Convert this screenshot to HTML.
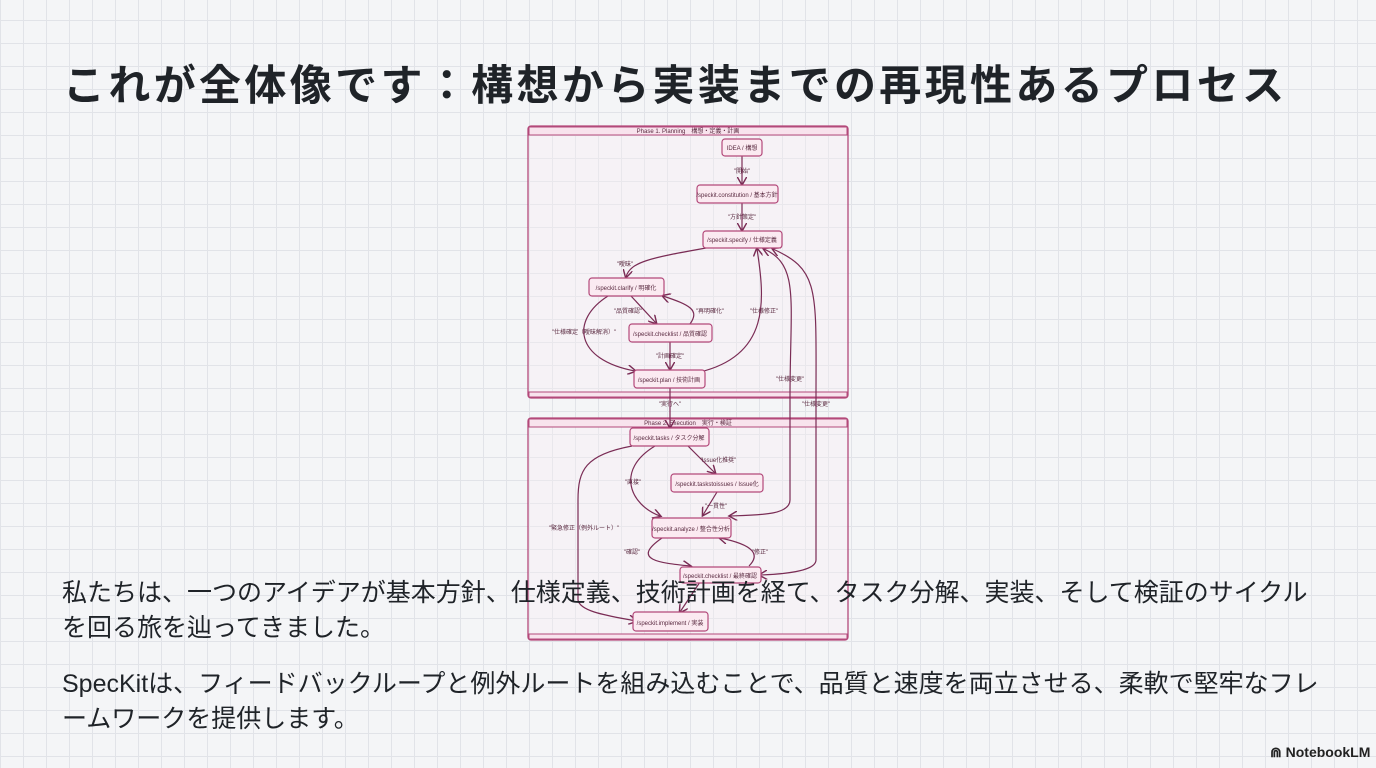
<!DOCTYPE html>
<html><head><meta charset="utf-8"><style>
html,body{margin:0;padding:0}
body{width:1376px;height:768px;overflow:hidden;position:relative;background-color:#f4f5f7;
background-image:linear-gradient(to right,#e1e3e8 1px,transparent 1px),linear-gradient(to bottom,#e1e3e8 1px,transparent 1px);
background-size:23px 23px;background-position:0 20px;font-family:"Liberation Sans","Noto Sans CJK JP",sans-serif;color:#1f2328}
.t{position:absolute;left:63px;top:52px;font-size:42px;font-weight:bold;white-space:nowrap;letter-spacing:3.35px}
.p{position:absolute;left:62px;font-size:25px;white-space:nowrap;line-height:35px}
svg{position:absolute;left:0;top:0}
.logo{position:absolute;left:1270px;top:744px;font-size:14px;font-weight:bold;color:#222}
</style></head><body>
<div class="t">これが全体像です：構想から実装までの再現性あるプロセス</div>
<svg width="1376" height="768" viewBox="0 0 1376 768">
<defs><marker id="a" markerWidth="8" markerHeight="8" refX="6" refY="4" orient="auto"><path d="M0,0 L7,4 L0,8" fill="none" stroke="#7a2c55" stroke-width="1.2"/></marker></defs>
<g fill="rgba(250,238,244,0.35)" stroke="#b3497a" stroke-width="1.3">
<rect x="528" y="126" width="320" height="272" rx="3"/>
<rect x="528" y="418" width="320" height="222" rx="3"/>
</g>
<g fill="#f8e3ed" stroke="#b3497a" stroke-width="1">
<rect x="529" y="127" width="318" height="8"/><rect x="529" y="392" width="318" height="5"/>
<rect x="529" y="419" width="318" height="8"/><rect x="529" y="634" width="318" height="5"/>
</g>
<g font-size="6" fill="#5a2a40" text-anchor="middle">
<text x="688" y="133">Phase 1. Planning　構想・定義・計画</text>
<text x="688" y="425">Phase 2. Execution　実行・検証</text>
</g>
<g fill="none" stroke="#7a2c55" stroke-width="1.2" marker-end="url(#a)">
<path d="M742 156 L742 184"/>
<path d="M742 203 L742 230"/>
<path d="M706 248 C650 258 630 262 626 277"/>
<path d="M631 296 L656 323"/>
<path d="M690 324 C700 310 690 305 663 296"/>
<path d="M608 296 C570 320 575 360 635 371"/>
<path d="M670 342 L670 369"/>
<path d="M700 372 C770 355 765 300 757 249"/>
<path d="M670 388 L670 427"/>
<path d="M790 398 C790 300 800 265 764 249"/>
<path d="M816 398 C816 290 820 270 773 249"/>
<path d="M790 398 L790 500 C790 515 760 515 730 516"/>
<path d="M816 398 L816 560 C816 570 790 574 760 575"/>
<path d="M655 446 C615 470 630 505 660 516"/>
<path d="M688 446 L715 473"/>
<path d="M717 492 L703 515"/>
<path d="M662 538 C630 560 660 563 690 566"/>
<path d="M749 566 C760 555 755 545 720 538"/>
<path d="M700 582 L680 612"/>
<path d="M632 446 C585 455 578 470 578 500 L578 600 C580 612 610 616 636 621"/>
</g>
<g fill="#fbeaf1" stroke="#b3497a" stroke-width="1.2">
<rect x="722" y="139" width="40" height="17" rx="3"/>
<rect x="697" y="185" width="81" height="18" rx="3"/>
<rect x="703" y="231" width="79" height="17" rx="3"/>
<rect x="589" y="278" width="75" height="18" rx="3"/>
<rect x="629" y="324" width="83" height="18" rx="3"/>
<rect x="634" y="370" width="71" height="18" rx="3"/>
<rect x="630" y="428" width="79" height="18" rx="3"/>
<rect x="671" y="474" width="92" height="18" rx="3"/>
<rect x="652" y="518" width="79" height="20" rx="3"/>
<rect x="680" y="567" width="81" height="16" rx="3"/>
<rect x="633" y="612" width="75" height="19" rx="3"/>
</g>
<g font-size="6" fill="#5a2a40" text-anchor="middle">
<text x="742" y="150">IDEA / 構想</text>
<text x="737" y="197">/speckit.constitution / 基本方針</text>
<text x="742" y="242">/speckit.specify / 仕様定義</text>
<text x="626" y="290">/speckit.clarify / 明確化</text>
<text x="670" y="336">/speckit.checklist / 品質確認</text>
<text x="669" y="382">/speckit.plan / 技術計画</text>
<text x="669" y="440">/speckit.tasks / タスク分解</text>
<text x="717" y="486">/speckit.taskstoissues / Issue化</text>
<text x="691" y="531">/speckit.analyze / 整合性分析</text>
<text x="720" y="578">/speckit.checklist / 最終確認</text>
<text x="670" y="625">/speckit.implement / 実装</text>
<text x="742" y="173">"開始"</text>
<text x="742" y="219">"方針策定"</text>
<text x="625" y="266">"曖昧"</text>
<text x="628" y="313">"品質確認"</text>
<text x="710" y="313">"再明確化"</text>
<text x="584" y="334">"仕様確定（曖昧解消）"</text>
<text x="670" y="358">"計画確定"</text>
<text x="764" y="313">"仕様修正"</text>
<text x="790" y="381">"仕様変更"</text>
<text x="670" y="406">"実行へ"</text>
<text x="816" y="406">"仕様変更"</text>
<text x="718" y="462">"Issue化推奨"</text>
<text x="633" y="484">"直接"</text>
<text x="716" y="508">"一貫性"</text>
<text x="584" y="530">"緊急修正（例外ルート）"</text>
<text x="632" y="554">"確認"</text>
<text x="760" y="554">"修正"</text>
</g>
</svg>
<div class="p" style="top:576px">私たちは、一つのアイデアが基本方針、仕様定義、技術計画を経て、タスク分解、実装、そして検証のサイクル</div>
<div class="p" style="top:611px">を回る旅を辿ってきました。</div>
<div class="p" style="top:667px">SpecKitは、フィードバックループと例外ルートを組み込むことで、品質と速度を両立させる、柔軟で堅牢なフレ</div>
<div class="p" style="top:702px">ームワークを提供します。</div>
<div class="logo">⋒ NotebookLM</div>
</body></html>
